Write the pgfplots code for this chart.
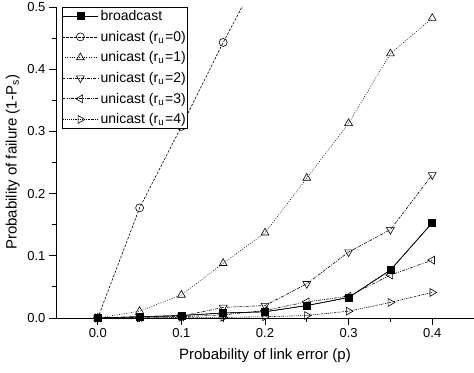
\documentclass[border=0pt]{standalone}
\usepackage{fontspec}
\setmainfont{Liberation Sans}
\usepackage{pgfplots}
\pgfplotsset{compat=1.18}
\usetikzlibrary{calc}
\newcommand{\legfont}{\fontsize{14}{16}\selectfont}
\newcommand{\labfont}{\fontsize{15}{17}\selectfont}
\newcommand{\tickfont}{\fontsize{13}{15}\selectfont}
\begin{document}
\begin{tikzpicture}
\begin{axis}[
  name=ax,
  scale only axis,
  width=418pt, height=311pt,
  xmin=-0.05, xmax=0.45, ymin=0, ymax=0.5,
  axis x line*=bottom, axis y line*=left,
  axis line style={line width=0.8pt},
  xtick={0,0.1,0.2,0.3,0.4},
  ytick={0,0.1,0.2,0.3,0.4,0.5},
  minor xtick={0.05,0.15,0.25,0.35},
  minor ytick={0.05,0.15,0.25,0.35,0.45},
  tick align=outside,
  major tick length=7pt, minor tick length=4pt,
  tick style={line width=0.8pt, black},
  /pgf/number format/assume math mode=true,
  /pgf/number format/fixed, /pgf/number format/fixed zerofill, /pgf/number format/precision=1,
  xticklabel style={font=\tickfont},
  yticklabel style={font=\tickfont},
  xlabel={\labfont Probability of link error (p)},
  ylabel={\labfont Probability of failure (1-P\textsubscript{s})},
  xlabel style={at={(axis description cs:0.5,-0.0965)}, anchor=north, inner sep=0pt},
  ylabel style={at={(axis description cs:-0.0861,0.5)}, anchor=south, inner sep=0pt},
  legend cell align=left,
  legend style={at={(axis description cs:0.0136,1)}, anchor=north west,
    draw=black, line width=0.8pt,
    inner xsep=0pt, inner ysep=2pt, row sep=7pt,
    nodes={inner xsep=2pt, inner ysep=1pt, font=\legfont}},
  legend image code/.code={\draw[mark repeat=2,mark phase=2] plot coordinates {(0pt,0pt) (18pt,0pt) (36pt,0pt)};},
  every axis plot/.append style={line width=0.6pt, black},
]
\addplot[solid, mark=square*, mark size=3.5pt, mark options={solid}] coordinates {
(0,0) (0.05,0.002) (0.1,0.004) (0.15,0.008) (0.2,0.010) (0.25,0.020) (0.3,0.033) (0.35,0.077) (0.4,0.153)};
\addlegendentry{\legfont broadcast}
\addplot[dash pattern=on 2.5pt off 1.5pt, mark=o, mark size=4pt, mark options={solid, fill=white}] coordinates {
(0,0) (0.05,0.177) (0.1,0.308) (0.15,0.443) (0.2,0.57)};
\addlegendentry{\legfont unicast (r\textsubscript{u}\kern1pt=0)}
\addplot[dash pattern=on 0.8pt off 1.6pt, mark=triangle, mark size=4.5pt, mark options={solid, fill=white}] coordinates {
(0,0) (0.05,0.011) (0.1,0.037) (0.15,0.088) (0.2,0.137) (0.25,0.225) (0.3,0.313) (0.35,0.425) (0.4,0.482)};
\addlegendentry{\legfont unicast (r\textsubscript{u}\kern1pt=1)}
\addplot[dash pattern=on 3pt off 1.2pt on 0.8pt off 1.2pt, mark=triangle, mark size=4.5pt, mark options={solid, fill=white, rotate=180}] coordinates {
(0,0) (0.05,0.002) (0.1,0.003) (0.15,0.017) (0.2,0.020) (0.25,0.055) (0.3,0.106) (0.35,0.142) (0.4,0.230)};
\addlegendentry{\legfont unicast (r\textsubscript{u}\kern1pt=2)}
\addplot[dash pattern=on 3pt off 1.2pt on 0.8pt off 1.2pt on 0.8pt off 1.2pt, mark=triangle, mark size=4.5pt, mark options={solid, fill=white, rotate=90}] coordinates {
(0,0) (0.05,0.001) (0.1,0.002) (0.15,0.005) (0.2,0.012) (0.25,0.026) (0.3,0.035) (0.35,0.069) (0.4,0.093)};
\addlegendentry{\legfont unicast (r\textsubscript{u}\kern1pt=3)}
\addplot[dash pattern=on 1.5pt off 1pt on 0.8pt off 1pt, mark=triangle, mark size=4.5pt, mark options={solid, fill=white, rotate=-90}] coordinates {
(0,0) (0.05,0) (0.1,0.001) (0.15,0.001) (0.2,0.002) (0.25,0.004) (0.3,0.011) (0.35,0.025) (0.4,0.041)};
\addlegendentry{\legfont unicast (r\textsubscript{u}\kern1pt=4)}
\addplot[solid, mark=square*, mark size=3.5pt, mark options={solid}, forget plot] coordinates {
(0,0) (0.05,0.002) (0.1,0.004) (0.15,0.008) (0.2,0.010) (0.25,0.020) (0.3,0.033) (0.35,0.077) (0.4,0.153)};
\end{axis}
\pgfresetboundingbox
\path ($(ax.south west)+(-56pt,-55pt)$) rectangle ($(ax.north east)+(0pt,7pt)$);
\end{tikzpicture}
\end{document}
